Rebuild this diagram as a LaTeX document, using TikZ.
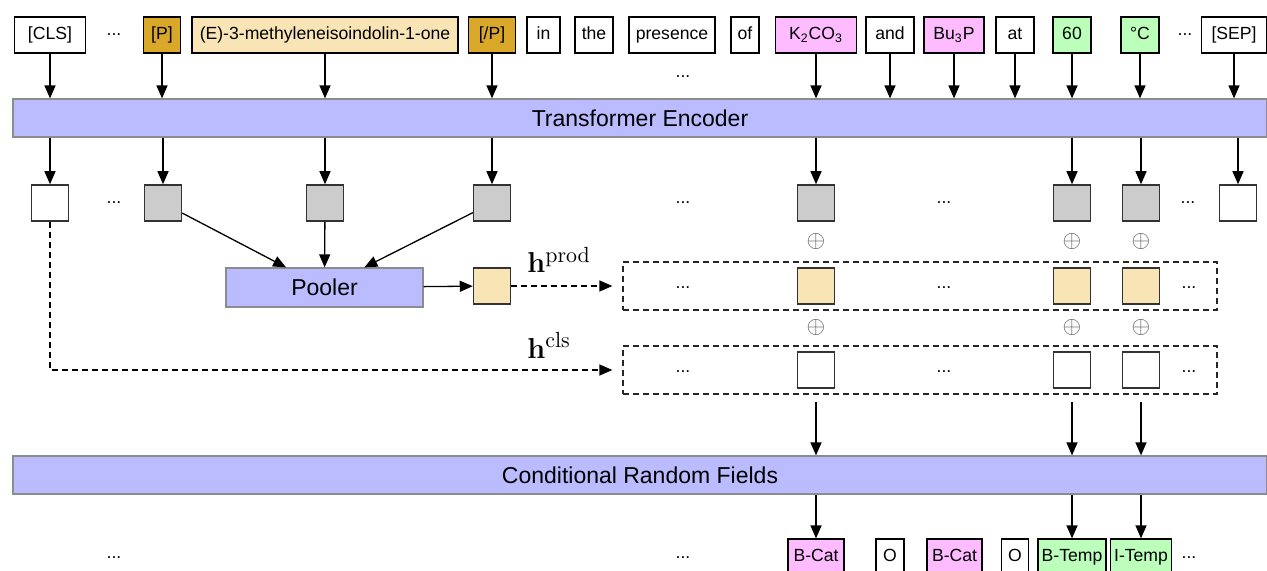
\documentclass[tikz,border=0pt]{standalone}
\usepackage[no-math]{fontspec}
\setmainfont{Liberation Sans}
\usetikzlibrary{arrows.meta,calc}
\definecolor{gold}{RGB}{218,168,40}
\definecolor{wheat}{RGB}{248,228,180}
\definecolor{pinkc}{RGB}{255,187,255}
\definecolor{greenc}{RGB}{187,255,187}
\definecolor{lav}{RGB}{187,187,255}
\definecolor{grayc}{RGB}{204,204,204}
\begin{document}
\begin{tikzpicture}[x=0.5pt,y=-0.5pt,
  tok/.style={draw=black, line width=0.6pt, inner sep=0pt, minimum height=18pt, text height=6.6pt, text depth=1.9pt, font=\fontsize{8.8}{10}\selectfont},
  pw/.style={minimum width=#1*0.5pt},
  sq/.style={draw=black!80, line width=0.75pt, inner sep=0pt, minimum width=18.5pt, minimum height=18pt},
  bar/.style={draw=black!45, line width=0.6pt, fill=lav, inner sep=0pt, minimum height=19pt, font=\fontsize{11.5}{13}\selectfont},
  dotsn/.style={inner sep=0pt, font=\fontsize{8.8}{10}\selectfont},
  plusn/.style={inner sep=0pt, text=black!65, font=\fontsize{13}{15}\selectfont},
  dbox/.style={draw=black!85, line width=0.65pt, dash pattern=on 3pt off 2pt, minimum width=297pt, minimum height=24pt, inner sep=0pt},
  hlab/.style={inner sep=0pt, anchor=base west, font=\fontsize{15}{18}\selectfont},
  arr/.style={-{Triangle[length=6.5pt,width=5.5pt]}, line width=0.65pt},
  darr/.style={arr, dash pattern=on 3pt off 2pt}]
\useasboundingbox (0,0) rectangle (1267,571);

% top tokens
\node[tok,pw=71] (cls) at (50,35) {[CLS]};
\node[dotsn] (d1) at (114,35) {...};
\node[tok,pw=37,fill=gold] (tp) at (162,35) {[P]};
\node[tok,pw=266,fill=wheat] (prod) at (325,35) {(E)-3-methyleneisoindolin-1-one};
\node[tok,pw=47,fill=gold] (tep) at (492,35) {[/P]};
\node[tok,pw=33] (tin) at (543.5,35) {in};
\node[tok,pw=38] (tthe) at (594,35) {the};
\node[tok,pw=86] (tpres) at (672,35) {presence};
\node[tok,pw=28] (tof) at (745,35) {of};
\node[tok,pw=81,fill=pinkc] (tk) at (816,35) {K\textsubscript{2}CO\textsubscript{3}};
\node[tok,pw=48] (tand) at (890,35) {and};
\node[tok,pw=60,fill=pinkc] (tbu) at (954,35) {Bu\textsubscript{3}P};
\node[tok,pw=38] (tat) at (1015,35) {at};
\node[tok,pw=38,fill=greenc] (t60) at (1072,35) {60};
\node[tok,pw=38,fill=greenc] (tdeg) at (1140,35) {°C};
\node[dotsn] (d2) at (1185,35) {...};
\node[tok,pw=65] (tsep) at (1234,35) {[SEP]};
\node[dotsn] (d3) at (683,77) {...};

% encoder
\node[bar,pw=1254] (enc) at (640,118) {Transformer Encoder};
\foreach \t in {cls,tp,prod,tep,tk,tand,tbu,tat,t60,tdeg,tsep}
  \draw[arr] (\t.south) -- (\t.south |- enc.north);

% hidden squares
\node[sq,fill=white] (h0) at (50,203) {};
\node[dotsn] (d4) at (114,203) {...};
\node[sq,fill=grayc] (h1) at (163,203) {};
\node[sq,fill=grayc] (h2) at (325,203) {};
\node[sq,fill=grayc] (h3) at (492,203) {};
\node[dotsn] (d5) at (683,203) {...};
\node[sq,fill=grayc] (h4) at (816,203) {};
\node[dotsn] (d6) at (944,203) {...};
\node[sq,fill=grayc] (h5) at (1072,203) {};
\node[sq,fill=grayc] (h6) at (1141,203) {};
\node[dotsn] (d7) at (1188,203) {...};
\node[sq,fill=white] (h7) at (1238,203) {};
\foreach \t in {h0,h1,h2,h3,h4,h5,h6,h7}
  \draw[arr] (\t.north |- enc.south) -- (\t.north);

% oplus row 1
\node[plusn] (o1) at (816,241.5) {$\oplus$};
\node[plusn] (o2) at (1072,241.5) {$\oplus$};
\node[plusn] (o3) at (1141,241.5) {$\oplus$};

% pooler
\node[bar,pw=197,minimum height=19.5pt] (pool) at (324.5,287.5) {Pooler};
\draw[arr] (h1) -- (pool);
\draw[arr] (h2) -- (pool);
\draw[arr] (h3) -- (pool);
\node[sq,fill=wheat] (pe) at (492,286) {};
\draw[arr] (pool) -- (pe);

% product row
\node[dbox] (row1) at (920,286) {};
\node[dotsn] (d8) at (683,288) {...};
\node[sq,fill=wheat] (y1) at (816,286) {};
\node[dotsn] (d9) at (944,288) {...};
\node[sq,fill=wheat] (y2) at (1072,286) {};
\node[sq,fill=wheat] (y3) at (1141,286) {};
\node[dotsn] (d10) at (1189,288) {...};
\draw[darr, shorten >=5pt] (pe.east) -- (row1.west);
\node[hlab] (hp) at (527,273) {$\mathbf{h}^{\mathrm{prod}}$};

% oplus row 2
\node[plusn] (o4) at (816,328) {$\oplus$};
\node[plusn] (o5) at (1072,328) {$\oplus$};
\node[plusn] (o6) at (1141,328) {$\oplus$};

% cls row
\node[dbox] (row2) at (920,370) {};
\node[dotsn] (d11) at (683,372) {...};
\node[sq,fill=white] (w1) at (816,370) {};
\node[dotsn] (d12) at (944,372) {...};
\node[sq,fill=white] (w2) at (1072,370) {};
\node[sq,fill=white] (w3) at (1141,370) {};
\node[dotsn] (d13) at (1189,372) {...};
\draw[darr, shorten >=5pt] (h0.south) |- (row2.west);
\node[hlab] (hc) at (527,358) {$\mathbf{h}^{\mathrm{cls}}$};

% CRF
\node[bar,pw=1254] (crf) at (640,475) {Conditional Random Fields};
\foreach \t in {w1,w2,w3}
  \draw[arr, shorten <=6.5pt] (\t.south) -- (\t.south |- crf.north);

% output labels
\node[dotsn] (d14) at (114,558) {...};
\node[dotsn] (d15) at (683,558) {...};
\node[tok,pw=56,fill=pinkc] (l1) at (816,557) {B-Cat};
\node[tok,pw=28] (l2) at (890,557) {O};
\node[tok,pw=55,fill=pinkc] (l3) at (954.5,557) {B-Cat};
\node[tok,pw=27] (l4) at (1015,557) {O};
\node[tok,pw=68,fill=greenc] (l5) at (1072,557) {B-Temp};
\node[tok,pw=61,fill=greenc] (l6) at (1141,557) {I-Temp};
\node[dotsn] (d16) at (1189,558) {...};
\foreach \t in {l1,l5,l6}
  \draw[arr] (\t.north |- crf.south) -- (\t.north);
\end{tikzpicture}
\end{document}
